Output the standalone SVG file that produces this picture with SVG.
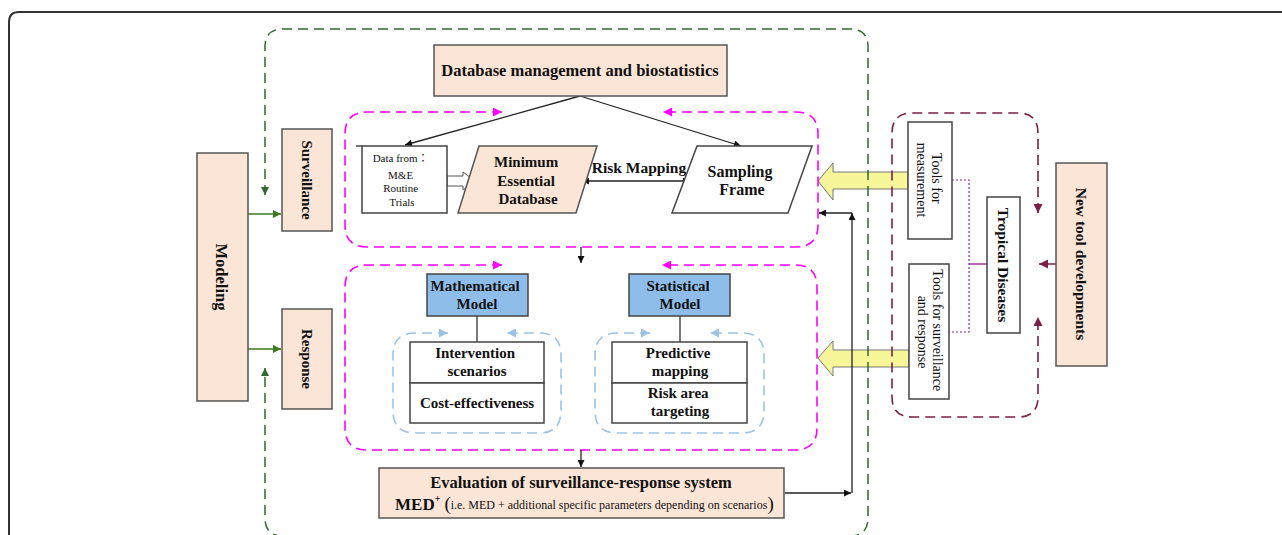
<svg xmlns="http://www.w3.org/2000/svg" width="1282" height="535" viewBox="0 0 1282 535">
<style>
  .t{font-family:"Liberation Serif","Times New Roman",serif;fill:#111;}
  .b{font-weight:bold;}
  .peach{fill:#fbe5d6;stroke:#555;stroke-width:1.5;}
  .blue{fill:#8fbde9;stroke:#444;stroke-width:1.5;}
  .wbox{fill:#fff;stroke:#444;stroke-width:1.5;}
  .mag{fill:none;stroke:#f0f;stroke-width:1.6;stroke-dasharray:10 6;}
  .lb{fill:none;stroke:#9cc3e6;stroke-width:1.6;stroke-dasharray:10 6;}
  .grn{fill:none;stroke:#2f6b2f;stroke-width:1.5;stroke-dasharray:10 6;}
  .mar{fill:none;stroke:#7a1f45;stroke-width:1.6;stroke-dasharray:10 6;}
  .blk{fill:none;stroke:#222;stroke-width:1.3;}
  .yel{fill:#f7f79a;stroke:#777;stroke-width:1;}
</style>
<defs>
  <marker id="aBlk" viewBox="0 0 10 10" refX="10" refY="5" markerWidth="8" markerHeight="7" markerUnits="userSpaceOnUse" orient="auto-start-reverse"><path d="M0,0 L10,5 L0,10 z" fill="#111"/></marker>
  <marker id="aMag" viewBox="0 0 10 10" refX="10" refY="5" markerWidth="10" markerHeight="9" markerUnits="userSpaceOnUse" orient="auto-start-reverse"><path d="M0,0 L10,5 L0,10 z" fill="#f0f"/></marker>
  <marker id="aLb" viewBox="0 0 10 10" refX="10" refY="5" markerWidth="10" markerHeight="9" markerUnits="userSpaceOnUse" orient="auto-start-reverse"><path d="M0,0 L10,5 L0,10 z" fill="#9cc3e6"/></marker>
  <marker id="aGrn" viewBox="0 0 10 10" refX="10" refY="5" markerWidth="9" markerHeight="8" markerUnits="userSpaceOnUse" orient="auto-start-reverse"><path d="M0,0 L10,5 L0,10 z" fill="#2f6b2f"/></marker>
  <marker id="aGrnS" viewBox="0 0 10 10" refX="10" refY="5" markerWidth="9" markerHeight="8" markerUnits="userSpaceOnUse" orient="auto-start-reverse"><path d="M0,0 L10,5 L0,10 z" fill="#3d7a1f"/></marker>
  <marker id="aMar" viewBox="0 0 10 10" refX="10" refY="5" markerWidth="10" markerHeight="9" markerUnits="userSpaceOnUse" orient="auto-start-reverse"><path d="M0,0 L10,5 L0,10 z" fill="#7a1f45"/></marker>
</defs>

<rect width="1282" height="535" fill="#fff"/>
<!-- outer frame -->
<path d="M9,535 V22 Q9,12 19,12 H1282" fill="none" stroke="#333" stroke-width="2"/>

<!-- yellow block arrows -->
<g id="yellow-arrows">
  <polygon class="yel" points="818,181 833,163 833,172 908,172 908,189 833,189 833,200"/>
  <polygon class="yel" points="818,358 833,341 833,350 909,350 909,367 833,367 833,376"/>
</g>

<!-- group frames -->
<g id="frames">
  <path class="grn" d="M265,195 V47 Q265,29 283,29 H850 Q868,29 868,47 V518 Q868,536 850,536 H283 Q265,536 265,518 V368" marker-start="url(#aGrn)" marker-end="url(#aGrn)"/>
  <path class="mag" d="M502,112 H367 Q345,112 345,134 V225 Q345,247 367,247 H796 Q818,247 818,225 V134 Q818,112 796,112 H663" marker-start="url(#aMag)" marker-end="url(#aMag)"/>
  <path class="mag" d="M502,265 H367 Q345,265 345,287 V428 Q345,450 367,450 H795 Q817,450 817,428 V287 Q817,265 795,265 H662" marker-start="url(#aMag)" marker-end="url(#aMag)"/>
  <path class="lb" d="M448,333 H415 Q393,333 393,355 V411 Q393,433 415,433 H539 Q561,433 561,411 V355 Q561,333 539,333 H507" marker-start="url(#aLb)" marker-end="url(#aLb)"/>
  <path class="lb" d="M650,333 H617 Q595,333 595,355 V411 Q595,433 617,433 H742 Q764,433 764,411 V355 Q764,333 742,333 H710" marker-start="url(#aLb)" marker-end="url(#aLb)"/>
  <path class="mar" d="M1038,213 V133 Q1038,113 1018,113 H912 Q892,113 892,133 V397 Q892,417 912,417 H1018 Q1038,417 1038,397 V317" marker-start="url(#aMar)" marker-end="url(#aMar)"/>
</g>

<!-- connectors -->
<g id="connectors">
  <line class="blk" x1="580" y1="96" x2="405" y2="145" marker-end="url(#aBlk)"/>
  <line class="blk" x1="580" y1="96" x2="741" y2="146" marker-end="url(#aBlk)"/>
  <polygon points="447,176 463,176 463,172 475,181 463,190 463,186 447,186" fill="#fff" stroke="#555" stroke-width="1"/>
  <line class="blk" x1="582" y1="181" x2="690" y2="181" stroke-width="1.8" marker-start="url(#aBlk)" marker-end="url(#aBlk)"/>
  <line class="blk" x1="581" y1="247" x2="581" y2="263" marker-end="url(#aBlk)"/>
  <line class="blk" x1="581" y1="450" x2="581" y2="467" marker-end="url(#aBlk)"/>
  <line x1="477" y1="316" x2="477" y2="342" stroke="#333" stroke-width="1.3"/>
  <line x1="680" y1="316" x2="680" y2="342" stroke="#333" stroke-width="1.3"/>
  <path class="blk" d="M785,493 H851" stroke-width="1.6" marker-end="url(#aBlk)"/>
  <path class="blk" d="M852,493 V213" stroke-width="1.6" marker-end="url(#aBlk)"/>
  <path class="blk" d="M852,213 H819" stroke-width="1.6" marker-end="url(#aBlk)"/>
  <line x1="248" y1="214" x2="281" y2="214" stroke="#3d7a1f" stroke-width="1.5" marker-end="url(#aGrnS)"/>
  <line x1="248" y1="349" x2="281" y2="349" stroke="#3d7a1f" stroke-width="1.5" marker-end="url(#aGrnS)"/>
  <path d="M952,180 H969 V332 H949" fill="none" stroke="#a0209a" stroke-width="1.2" stroke-dasharray="2 2"/>
  <line x1="969" y1="264" x2="987" y2="264" stroke="#8b1a8b" stroke-width="1.3"/>
  <line x1="1056" y1="264" x2="1039" y2="264" stroke="#7a1f45" stroke-width="1.5" marker-end="url(#aMar)"/>
</g>

<!-- nodes -->
<g id="db-management">
  <rect class="peach" x="434" y="45" width="293" height="51"/>
  <text class="t b" x="580" y="76" font-size="16.5" text-anchor="middle">Database management and biostatistics</text>
</g>
<g id="data-from">
  <rect class="wbox" x="362" y="146" width="85" height="67"/>
  <line x1="356" y1="146" x2="362" y2="146" stroke="#444" stroke-width="1.5"/>
  <text class="t" font-size="11" text-anchor="middle" style="font-family:'Liberation Serif','Noto Sans CJK JP',serif">
    <tspan x="402" y="162">Data from：</tspan>
    <tspan x="402" y="179">M&amp;E</tspan>
    <tspan x="402" y="192">Routine</tspan>
    <tspan x="402" y="206">Trials</tspan>
  </text>
</g>
<g id="med">
  <polygon class="peach" points="479,146 597,146 576,213 458,213"/>
  <text class="t b" font-size="15" text-anchor="middle">
    <tspan x="528" y="167">Minimum</tspan>
    <tspan x="528" y="186">Essential</tspan>
    <tspan x="528" y="204">Database</tspan>
  </text>
</g>
<text id="risk-mapping" class="t b" x="639" y="173" font-size="15.5" text-anchor="middle">Risk Mapping</text>
<g id="sampling-frame">
  <polygon class="wbox" points="697,146 812,146 788,213 672,213"/>
  <text class="t b" font-size="16" text-anchor="middle">
    <tspan x="742" y="177">Sampling</tspan>
    <tspan x="742" y="195">Frame</tspan>
  </text>
</g>
<g id="math-model">
  <rect class="blue" x="427" y="274" width="101" height="42"/>
  <text class="t b" font-size="15" text-anchor="middle">
    <tspan x="477" y="291">Mathematical</tspan>
    <tspan x="477" y="309">Model</tspan>
  </text>
</g>
<g id="stat-model">
  <rect class="blue" x="629" y="274" width="101" height="42"/>
  <text class="t b" font-size="15" text-anchor="middle">
    <tspan x="680" y="291">Statistical</tspan>
    <tspan x="680" y="309">Model</tspan>
  </text>
</g>
<g id="intervention">
  <rect class="wbox" x="410" y="342" width="134" height="41"/>
  <text class="t b" font-size="15" text-anchor="middle">
    <tspan x="477" y="358">Intervention</tspan>
    <tspan x="477" y="376">scenarios</tspan>
  </text>
</g>
<g id="cost-effectiveness">
  <rect class="wbox" x="410" y="383" width="134" height="40"/>
  <text class="t b" x="477" y="408" font-size="15" text-anchor="middle">Cost-effectiveness</text>
</g>
<g id="predictive">
  <rect class="wbox" x="612" y="342" width="135" height="41"/>
  <text class="t b" font-size="15" text-anchor="middle">
    <tspan x="680" y="358">Predictive</tspan>
    <tspan x="680" y="376">mapping</tspan>
  </text>
</g>
<g id="risk-area">
  <rect class="wbox" x="612" y="383" width="135" height="40"/>
  <text class="t b" font-size="15" text-anchor="middle">
    <tspan x="680" y="398">Risk area</tspan>
    <tspan x="680" y="416">targeting</tspan>
  </text>
</g>
<g id="evaluation">
  <rect class="peach" x="379" y="468" width="405" height="50"/>
  <text class="t b" x="581" y="488" font-size="16.5" text-anchor="middle">Evaluation of surveillance-response system</text>
  <text class="t" y="510"><tspan x="395" class="b" font-size="17">MED</tspan><tspan class="b" font-size="10" dy="-8">+</tspan><tspan font-size="19" dx="4" dy="8">(</tspan><tspan font-size="12" dy="-1">i.e. MED + additional specific parameters depending on scenarios</tspan><tspan font-size="19" dy="1">)</tspan></text>
</g>
<g id="modeling">
  <rect class="peach" x="197" y="153" width="51" height="248"/>
  <text class="t b" font-size="16.5" text-anchor="middle" transform="translate(222,277) rotate(90)" y="6">Modeling</text>
</g>
<g id="surveillance">
  <rect class="peach" x="282" y="129" width="50" height="102"/>
  <text class="t b" font-size="15" text-anchor="middle" transform="translate(307,180) rotate(90)" y="5">Surveillance</text>
</g>
<g id="response">
  <rect class="peach" x="282" y="309" width="50" height="100"/>
  <text class="t b" font-size="15" text-anchor="middle" transform="translate(307,359) rotate(90)" y="5">Response</text>
</g>
<g id="tools-measurement">
  <rect class="wbox" x="908" y="122" width="44" height="117"/>
  <text class="t" font-size="14" text-anchor="middle" transform="translate(930,180) rotate(90)">
    <tspan x="0" y="-2">Tools for</tspan>
    <tspan x="0" y="13">measurement</tspan>
  </text>
</g>
<g id="tools-surveillance">
  <rect class="wbox" x="909" y="264" width="40" height="135"/>
  <text class="t" font-size="14" text-anchor="middle" transform="translate(930,332) rotate(90)">
    <tspan x="0" y="-3">Tools for surveillance</tspan>
    <tspan x="0" y="12">and response</tspan>
  </text>
</g>
<g id="tropical-diseases">
  <rect class="wbox" x="987" y="197" width="33" height="136"/>
  <text class="t b" font-size="15.5" text-anchor="middle" transform="translate(1003,265) rotate(90)" y="5">Tropical Diseases</text>
</g>
<g id="new-tool">
  <rect class="peach" x="1056" y="163" width="51" height="203"/>
  <text class="t b" font-size="15.5" text-anchor="middle" transform="translate(1081,264) rotate(90)" y="5">New tool developments</text>
</g>
</svg>
